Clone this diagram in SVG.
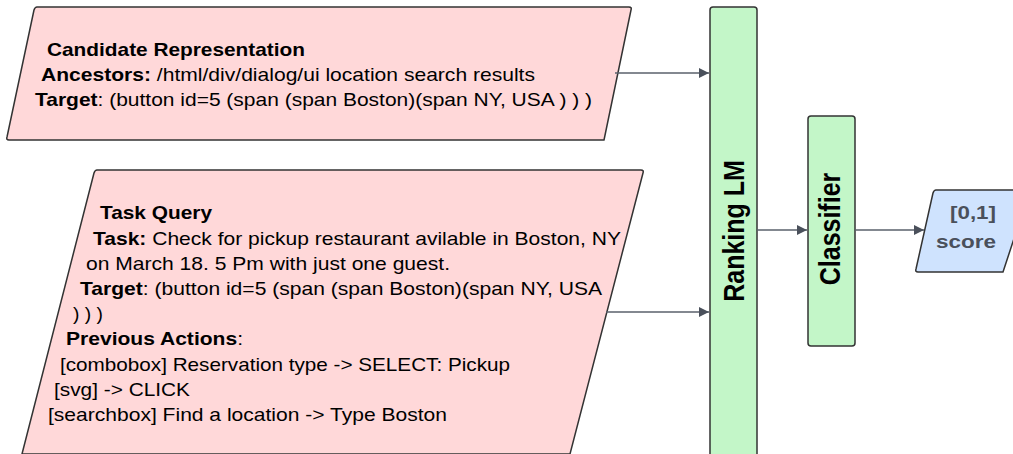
<svg xmlns="http://www.w3.org/2000/svg" width="1013" height="454" viewBox="0 0 1013 454">
<style>
text{font-family:"Liberation Sans",Arial,sans-serif;fill:#000}
.body{font-size:19px}
.b{font-weight:bold}
.pink{fill:#ffd8d9;stroke:#333;stroke-width:1.5;stroke-linejoin:round}
.green{fill:#c3f6c8;stroke:#333;stroke-width:1.5}
.blue{fill:#cfe3fe;stroke:#333;stroke-width:1.5;stroke-linejoin:round}
.big{font-size:25px;font-weight:bold}
.sc{font-size:19px;font-weight:bold;fill:#4a505b}
.conn{stroke:#5a606b;stroke-width:1.5;fill:none;marker-end:url(#ah)}
</style>
<defs>
<marker id="ah" viewBox="0 0 10 10" refX="10" refY="5" markerWidth="10" markerHeight="10" markerUnits="userSpaceOnUse" orient="auto">
<path d="M0,0 L10,5 L0,10 z" fill="#4a505b"/>
</marker>
</defs>
<g id="candidate">
<path class="pink" d="M37,7 L629,7 Q632,7 631,10 L604,140 L9,140 Q6,140 7,137 L34,10 Q35,7 37,7 Z"/>
<text class="body" x="47" y="56" textLength="258" lengthAdjust="spacingAndGlyphs"><tspan class="b">Candidate Representation</tspan></text>
<text class="body" x="41" y="81" textLength="494" lengthAdjust="spacingAndGlyphs"><tspan class="b">Ancestors:</tspan> /html/div/dialog/ui location search results</text>
<text class="body" x="35" y="106" textLength="557" lengthAdjust="spacingAndGlyphs"><tspan class="b">Target</tspan>: (button id=5 (span (span Boston)(span NY, USA ) ) )</text>
</g>
<g id="task">
<path class="pink" d="M97,170 L641,170 Q644,170 643,173 L570,454 L22,454 L94,173 Q95,170 97,170 Z"/>
<text class="body" x="100" y="219" textLength="112" lengthAdjust="spacingAndGlyphs"><tspan class="b">Task Query</tspan></text>
<text class="body" x="93" y="245" textLength="528" lengthAdjust="spacingAndGlyphs"><tspan class="b">Task:</tspan> Check for pickup restaurant avilable in Boston, NY</text>
<text class="body" x="86" y="270" textLength="364" lengthAdjust="spacingAndGlyphs">on March 18. 5 Pm with just one guest.</text>
<text class="body" x="80" y="295" textLength="522" lengthAdjust="spacingAndGlyphs"><tspan class="b">Target</tspan>: (button id=5 (span (span Boston)(span NY, USA</text>
<text class="body" x="73" y="320" textLength="30" lengthAdjust="spacingAndGlyphs">) ) )</text>
<text class="body" x="66" y="345" textLength="177" lengthAdjust="spacingAndGlyphs"><tspan class="b">Previous Actions</tspan>:</text>
<text class="body" x="60" y="371" textLength="450" lengthAdjust="spacingAndGlyphs">[combobox] Reservation type -&gt; SELECT: Pickup</text>
<text class="body" x="54" y="396" textLength="136" lengthAdjust="spacingAndGlyphs">[svg] -&gt; CLICK</text>
<text class="body" x="48" y="421" textLength="399" lengthAdjust="spacingAndGlyphs">[searchbox] Find a location -&gt; Type Boston</text>
</g>
<g id="ranking">
<rect class="green" x="710" y="7" width="47" height="460" rx="3"/>
<text class="big" transform="translate(744,231) rotate(-90) scale(1,1.16)" text-anchor="middle">Ranking LM</text>
</g>
<g id="classifier">
<rect class="green" x="808" y="116" width="47" height="230" rx="3"/>
<text class="big" transform="translate(839.5,229) rotate(-90) scale(1,1.16)" text-anchor="middle">Classifier</text>
</g>
<g id="score">
<path class="blue" d="M936,190 L1030,190 L1003,272 L918,272 Q915,272 916,269 L933,193 Q934,190 936,190 Z"/>
<text class="sc" x="950" y="219" textLength="46" lengthAdjust="spacingAndGlyphs">[0,1]</text>
<text class="sc" x="936" y="248" textLength="60" lengthAdjust="spacingAndGlyphs">score</text>
</g>
<g id="connectors">
<line class="conn" x1="615" y1="73" x2="709" y2="73"/>
<line class="conn" x1="606" y1="312" x2="709" y2="312"/>
<line class="conn" x1="757" y1="230" x2="807" y2="230"/>
<line class="conn" x1="855" y1="230" x2="924" y2="230"/>
</g>
</svg>
